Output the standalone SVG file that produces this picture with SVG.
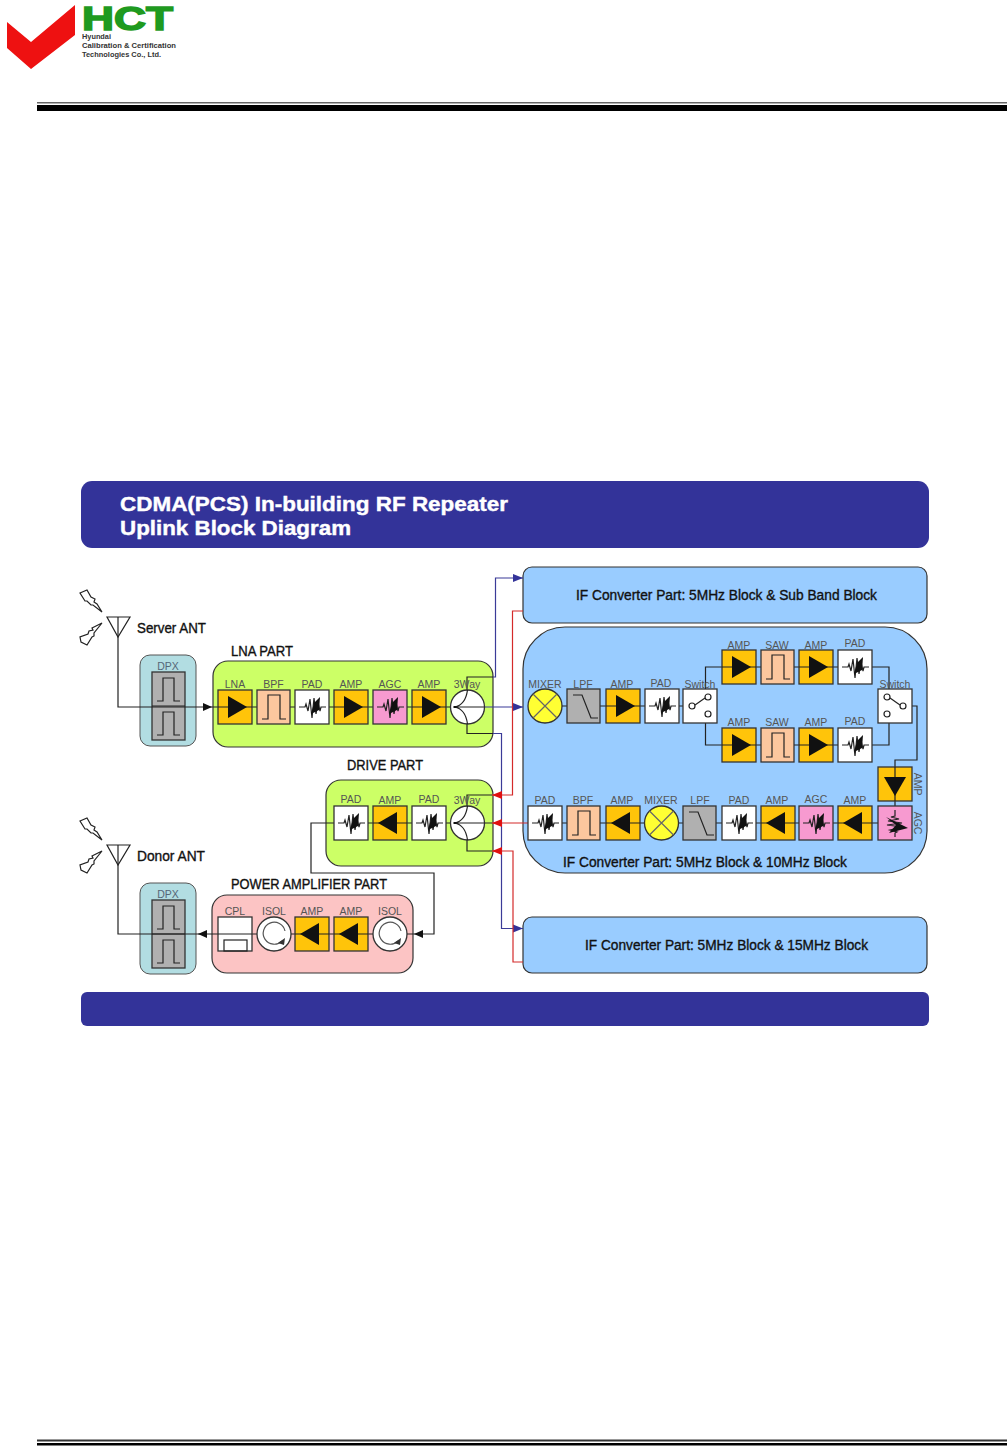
<svg xmlns="http://www.w3.org/2000/svg" width="1007" height="1446" viewBox="0 0 1007 1446">
<style>
text{font-family:"Liberation Sans",Arial,sans-serif;}
.b{stroke:#333;stroke-width:1.3;}
.l{font-size:10.5px;fill:#555;text-anchor:middle;}
.t{font-size:14px;fill:#111;stroke:#111;stroke-width:.35;}
.w{fill:none;stroke:#222;stroke-width:1.2;}
.k{fill:none;stroke:#222;stroke-width:1.2;}
.bl{fill:none;stroke:#3b3b98;stroke-width:1.2;}
.rd{fill:none;stroke:#d42a2a;stroke-width:1.2;}
.part{stroke:#333;stroke-width:1.2;}
.if{fill:#99ccff;stroke:#333;stroke-width:1.2;}
.ban{fill:#333399;}
</style>
<defs>
<marker id="ab" markerUnits="userSpaceOnUse" markerWidth="10" markerHeight="10" refX="10" refY="5" orient="auto"><path d="M0 1L10 5L0 9Z" fill="#333399"/></marker>
<marker id="ar" markerUnits="userSpaceOnUse" markerWidth="10" markerHeight="10" refX="10" refY="5" orient="auto"><path d="M0 1L10 5L0 9Z" fill="#e01010"/></marker>
<marker id="ak" markerUnits="userSpaceOnUse" markerWidth="9" markerHeight="10" refX="9" refY="5" orient="auto"><path d="M0 1L9 5L0 9Z" fill="#111"/></marker>
<g id="sq"><path class="w" d="M4 17H10L11 14L13 21L15 9L17 28L19 8L21 24L23 12L25 21L26 17H31"/><path d="M16 24L19 13L25 7L24 20Z" fill="#111"/></g>
<g id="amp-r"><rect class="b" width="34" height="34" fill="#ffc40a"/><path class="k" d="M0 17H34"/><path d="M10 6L29 17L10 28Z" fill="#111"/></g>
<g id="amp-l"><rect class="b" width="34" height="34" fill="#ffc40a"/><path class="k" d="M0 17H34"/><path d="M24 6L5 17L24 28Z" fill="#111"/></g>
<g id="amp-d"><rect class="b" width="34" height="34" fill="#ffc40a"/><path class="k" d="M17 0V34"/><path d="M6 10L17 29L28 10Z" fill="#111"/></g>
<g id="bpf"><rect class="b" width="33" height="34" fill="#fcc79e"/><path class="w" d="M5 29H11V5H23V29H29"/></g>
<g id="lpf"><rect class="b" width="33" height="34" fill="#b0b0b0"/><path class="w" d="M6 6H15L24 29H31"/></g>
<g id="pad"><rect class="b" width="34" height="34" fill="#fff"/><use href="#sq"/></g>
<g id="agc"><rect class="b" width="34" height="34" fill="#f79ad0"/><use href="#sq"/></g>
<g id="agc-d"><rect class="b" width="34" height="34" fill="#f79ad0"/><path class="w" d="M17 4V10L13 11L21 13L10 15L24 17L9 19L24 21L12 24L19 26L17 27V31"/><path d="M8 11L30 22L11 27L18 19Z" fill="#111"/></g>
<g id="way"><circle class="b" cx="17" cy="17" r="17" fill="#fff"/><path class="k" d="M4 17H34M4 17Q15 15 17 0M4 17Q15 19 17 34"/><rect x="3" y="16" width="3" height="2" fill="#111"/></g>
<g id="mix"><circle class="b" cx="17" cy="17" r="17" fill="#ffff33"/><path d="M5 5L29 29M29 5L5 29" stroke="#666" stroke-width="1.2"/></g>
<g id="iso"><circle class="b" cx="17" cy="17" r="17" fill="#fff"/><path d="M25 24A11 11 0 1 1 28 14" fill="none" stroke="#555" stroke-width="1.2"/><path d="M21 26L28 21L27 28Z" fill="#333"/></g>
<g id="swl"><rect class="b" width="34" height="34" fill="#fff"/><circle class="w" cx="9" cy="17" r="3"/><circle class="w" cx="25" cy="8" r="3"/><circle class="w" cx="25" cy="25" r="3"/><path class="w" d="M12 16L22 9"/></g>
<g id="swr"><rect class="b" width="34" height="34" fill="#fff"/><circle class="w" cx="9" cy="8" r="3"/><circle class="w" cx="25" cy="17" r="3"/><circle class="w" cx="9" cy="25" r="3"/><path class="w" d="M12 9L22 16"/></g>
<g id="dpx"><rect width="56" height="91" rx="10" fill="#b2dde2" stroke="#555" stroke-width="1"/><rect x="12" y="17" width="33" height="68" fill="#b0b0b0" stroke="#333" stroke-width="1.3"/><path class="w" d="M12 51H45M17 46H23V23H34V46H40M17 80H23V57H34V80H40"/><text class="l" x="28" y="15" style="fill:#567">DPX</text></g>
<g id="bolts"><path class="k" d="M80 593L87 590L91 597L95 599L94 602L97 604L102 612L93 605L91 605L87 601L85 601Z" style="fill:#fff"/><path class="k" d="M102 623L92 628L93 630L89 631L88 634L80 637L81 642L87 645L92 637L94 636L94 633Z" style="fill:#fff"/></g>
</defs>

<g id="logo">
<path d="M7 22L31 42L75 5V35L31 69L7 48Z" fill="#ee1111"/>
<text x="82" y="30" font-size="34" font-weight="700" fill="#1f9a1f" stroke="#1f9a1f" stroke-width="1.6" textLength="91" lengthAdjust="spacingAndGlyphs">HCT</text>
<text x="82" y="39" font-size="7" font-weight="700" fill="#333" textLength="29" lengthAdjust="spacingAndGlyphs">Hyundai</text>
<text x="82" y="48" font-size="7" font-weight="700" fill="#333" textLength="94" lengthAdjust="spacingAndGlyphs">Calibration &amp; Certification</text>
<text x="82" y="57" font-size="7" font-weight="700" fill="#333" textLength="79" lengthAdjust="spacingAndGlyphs">Technologies Co., Ltd.</text>
</g>
<g id="rules">
<rect x="37" y="102" width="970" height="1.5" fill="#666"/>
<rect x="37" y="105" width="970" height="6" fill="#000"/>
<rect x="37" y="1439.5" width="970" height="2" fill="#333"/>
<rect x="37" y="1443" width="970" height="2.5" fill="#000"/>
</g>

<g id="title">
<rect class="ban" x="81" y="481" width="848" height="67" rx="11"/>
<text x="120" y="511" font-size="20" font-weight="700" fill="#fff" stroke="#fff" stroke-width=".4" textLength="388" lengthAdjust="spacingAndGlyphs">CDMA(PCS) In-building RF Repeater</text>
<text x="120" y="535" font-size="20" font-weight="700" fill="#fff" stroke="#fff" stroke-width=".4" textLength="231" lengthAdjust="spacingAndGlyphs">Uplink Block Diagram</text>
</g>
<rect id="footer-bar" class="ban" x="81" y="992" width="848" height="34" rx="6"/>

<g id="if-15"><rect class="if" x="523" y="917" width="404" height="56" rx="9"/><text class="t" x="585" y="950" textLength="283" lengthAdjust="spacingAndGlyphs">IF Converter Part: 5MHz Block &amp; 15MHz Block</text></g>
<g id="if-sub"><rect class="if" x="523" y="567" width="404" height="56" rx="9"/><text class="t" x="576" y="600" textLength="301" lengthAdjust="spacingAndGlyphs">IF Converter Part: 5MHz Block &amp; Sub Band Block</text></g>
<g id="if-10"><rect class="if" x="523" y="627" width="404" height="246" rx="42"/><text class="t" x="563" y="867" textLength="284" lengthAdjust="spacingAndGlyphs">IF Converter Part: 5MHz Block &amp; 10MHz Block</text></g>
<g id="lna-part"><rect class="part" x="213" y="661" width="280" height="86" rx="15" fill="#ccff66"/><text class="t" x="231" y="656" textLength="62" lengthAdjust="spacingAndGlyphs">LNA PART</text></g>
<g id="drive-part"><rect class="part" x="326" y="780" width="167" height="86" rx="15" fill="#ccff66"/><text class="t" x="347" y="770" textLength="76" lengthAdjust="spacingAndGlyphs">DRIVE PART</text></g>
<g id="pa-part"><rect class="part" x="212" y="895" width="201" height="78" rx="15" fill="#fcc4c4"/><text class="t" x="231" y="889" textLength="156" lengthAdjust="spacingAndGlyphs">POWER AMPLIFIER PART</text></g>
<g id="dpx-server"><use href="#dpx" x="140" y="655"/></g>
<g id="dpx-donor"><use href="#dpx" x="140" y="883"/></g>
<g id="ant-server"><use href="#bolts"/><path class="k" d="M107 617H130L118 637Z"/><path class="k" d="M118 617V637"/><text class="t" x="137" y="633" textLength="69" lengthAdjust="spacingAndGlyphs">Server ANT</text></g>
<g id="ant-donor"><use href="#bolts" y="228"/><path class="k" d="M107 845H130L118 865Z"/><path class="k" d="M118 845V865"/><text class="t" x="137" y="861" textLength="68" lengthAdjust="spacingAndGlyphs">Donor ANT</text></g>

<g id="connectors">
<path class="k" d="M118 637V707H212" marker-end="url(#ak)"/>
<path class="k" d="M212 707H484"/>
<path class="bl" d="M484 707H523" marker-end="url(#ab)"/>
<path class="k" d="M467 690V677H493"/><path class="bl" d="M493 677H495.500V578H523" marker-end="url(#ab)"/>
<path class="k" d="M467 724V733.500H493"/><path class="bl" d="M493 733.500H501.500V928.500H523" marker-end="url(#ab)"/>
<path class="rd" d="M523 611H512.500V795H492" marker-end="url(#ar)"/><path class="k" d="M492 795H467V806"/>
<path class="rd" d="M528 823H492" marker-end="url(#ar)"/><path class="k" d="M492 823H334"/>
<path class="rd" d="M523 962H513V851H492" marker-end="url(#ar)"/><path class="k" d="M492 851H467V840"/>
<path class="k" d="M334 823H311V873H434V934H414" marker-end="url(#ak)"/>
<path class="k" d="M414 934H205"/>
<path class="k" d="M205 934H198" marker-end="url(#ak)"/>
<path class="k" d="M198 934H118V865"/>
<path class="k" d="M545 706H683M705.500 689V667H872H889V689M705.500 723V745H872H889V723M912 706H917V760H895V767M895 801V806M878 823H528"/>
</g>

<g id="lna"><use href="#amp-r" x="218" y="690"/><text class="l" x="235" y="688">LNA</text></g>
<g id="lna-bpf"><use href="#bpf" x="257" y="690"/><text class="l" x="273.500" y="688">BPF</text></g>
<g id="lna-pad"><use href="#pad" x="295" y="690"/><text class="l" x="312" y="688">PAD</text></g>
<g id="lna-amp1"><use href="#amp-r" x="334" y="690"/><text class="l" x="351" y="688">AMP</text></g>
<g id="lna-agc"><use href="#agc" x="373" y="690"/><text class="l" x="390" y="688">AGC</text></g>
<g id="lna-amp2"><use href="#amp-r" x="412" y="690"/><text class="l" x="429" y="688">AMP</text></g>
<g id="lna-way"><use href="#way" x="450.500" y="690"/><text class="l" x="467" y="688">3Way</text></g>

<g id="drv-pad1"><use href="#pad" x="334" y="806"/><text class="l" x="351" y="803">PAD</text></g>
<g id="drv-amp"><use href="#amp-l" x="373" y="806"/><text class="l" x="390" y="804">AMP</text></g>
<g id="drv-pad2"><use href="#pad" x="412" y="806"/><text class="l" x="429" y="803">PAD</text></g>
<g id="drv-way"><use href="#way" x="450.500" y="806"/><text class="l" x="467" y="804">3Way</text></g>

<g id="pa-cpl"><rect class="b" x="218" y="917" width="34" height="34" fill="#fff"/><path class="k" d="M218 934H252"/><rect class="w" x="224" y="940" width="23" height="11"/><text class="l" x="235" y="915">CPL</text></g>
<g id="pa-iso1"><use href="#iso" x="257" y="917"/><text class="l" x="274" y="915">ISOL</text></g>
<g id="pa-amp1"><use href="#amp-l" x="295" y="917"/><text class="l" x="312" y="915">AMP</text></g>
<g id="pa-amp2"><use href="#amp-l" x="334" y="917"/><text class="l" x="351" y="915">AMP</text></g>
<g id="pa-iso2"><use href="#iso" x="373" y="917"/><text class="l" x="390" y="915">ISOL</text></g>

<g id="if-mixer"><use href="#mix" x="528" y="689"/><text class="l" x="545" y="688">MIXER</text></g>
<g id="if-lpf"><use href="#lpf" x="567" y="689"/><text class="l" x="583" y="688">LPF</text></g>
<g id="if-amp"><use href="#amp-r" x="606" y="689"/><text class="l" x="622" y="688">AMP</text></g>
<g id="if-pad"><use href="#pad" x="645" y="689"/><text class="l" x="661" y="687">PAD</text></g>
<g id="if-sw1"><use href="#swl" x="683" y="689"/><text class="l" x="700" y="688">Switch</text></g>
<g id="u-amp1"><use href="#amp-r" x="722" y="650"/><text class="l" x="739" y="649">AMP</text></g>
<g id="u-saw"><use href="#bpf" x="761" y="650"/><text class="l" x="777" y="649">SAW</text></g>
<g id="u-amp2"><use href="#amp-r" x="799" y="650"/><text class="l" x="816" y="649">AMP</text></g>
<g id="u-pad"><use href="#pad" x="838" y="650"/><text class="l" x="855" y="647">PAD</text></g>
<g id="l-amp1"><use href="#amp-r" x="722" y="728"/><text class="l" x="739" y="726">AMP</text></g>
<g id="l-saw"><use href="#bpf" x="761" y="728"/><text class="l" x="777" y="726">SAW</text></g>
<g id="l-amp2"><use href="#amp-r" x="799" y="728"/><text class="l" x="816" y="726">AMP</text></g>
<g id="l-pad"><use href="#pad" x="838" y="728"/><text class="l" x="855" y="725">PAD</text></g>
<g id="if-sw2"><use href="#swr" x="878" y="689"/><text class="l" x="895" y="688">Switch</text></g>
<g id="if-ampd"><use href="#amp-d" x="878" y="767"/><text class="l" transform="translate(914 784) rotate(90)">AMP</text></g>
<g id="if-agcd"><use href="#agc-d" x="878" y="806"/><text class="l" transform="translate(914 823) rotate(90)">AGC</text></g>
<g id="b-amp1"><use href="#amp-l" x="838" y="806"/><text class="l" x="855" y="804">AMP</text></g>
<g id="b-agc"><use href="#agc" x="799" y="806"/><text class="l" x="816" y="803">AGC</text></g>
<g id="b-amp2"><use href="#amp-l" x="761" y="806"/><text class="l" x="777" y="804">AMP</text></g>
<g id="b-pad1"><use href="#pad" x="722" y="806"/><text class="l" x="739" y="804">PAD</text></g>
<g id="b-lpf"><use href="#lpf" x="683" y="806"/><text class="l" x="700" y="804">LPF</text></g>
<g id="b-mix"><use href="#mix" x="644.500" y="806"/><text class="l" x="661" y="804">MIXER</text></g>
<g id="b-amp3"><use href="#amp-l" x="606" y="806"/><text class="l" x="622" y="804">AMP</text></g>
<g id="b-bpf"><use href="#bpf" x="567" y="806"/><text class="l" x="583" y="804">BPF</text></g>
<g id="b-pad2"><use href="#pad" x="528" y="806"/><text class="l" x="545" y="804">PAD</text></g>
</svg>
